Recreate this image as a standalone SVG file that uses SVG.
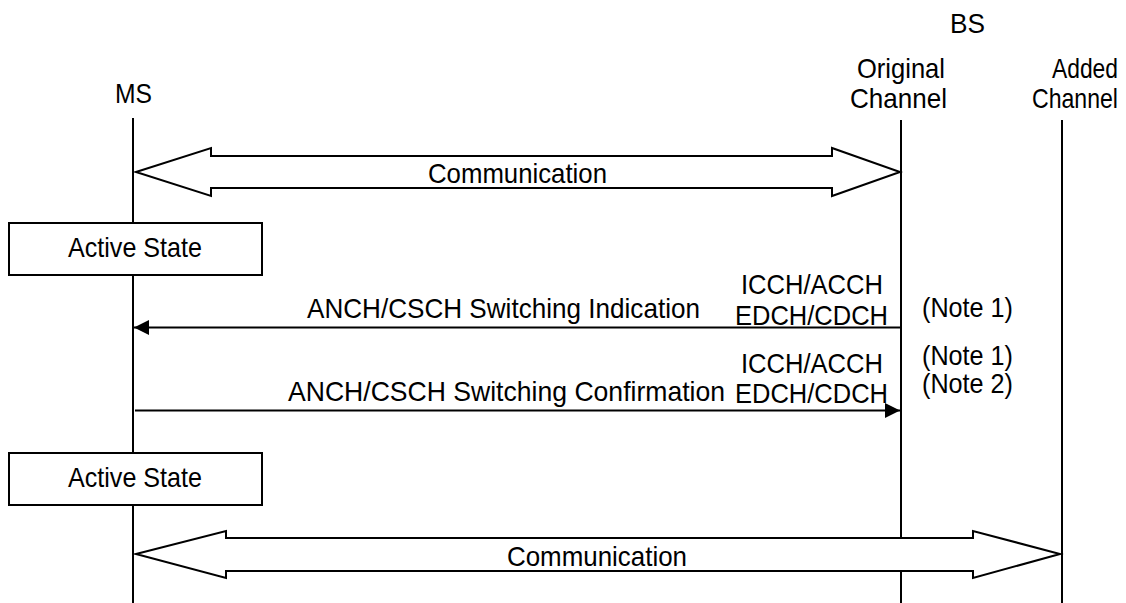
<svg xmlns="http://www.w3.org/2000/svg" width="1126" height="603" viewBox="0 0 1126 603">
<style>
text{font-family:"Liberation Sans",Arial,sans-serif;font-size:28px;fill:#000}
.life{stroke:#000;stroke-width:2;fill:none}
.big{fill:#fff;stroke:#000;stroke-width:2;stroke-linejoin:miter}
.box{fill:#fff;stroke:#000;stroke-width:2}
.msg{stroke:#000;stroke-width:2;fill:none}
</style>
<defs>
<marker id="ah" viewBox="0 0 15 15" refX="15" refY="7.5" markerWidth="15" markerHeight="15" markerUnits="userSpaceOnUse" orient="auto">
<path d="M0,0 L15,7.5 L0,15 Z" fill="#000"/>
</marker>
</defs>
<g id="MS">
<text x="115" y="103" textLength="37" lengthAdjust="spacingAndGlyphs">MS</text>
<line class="life" x1="133" y1="118" x2="133" y2="603"/>
</g>
<g id="BS">
<text x="950" y="33" textLength="35" lengthAdjust="spacingAndGlyphs">BS</text>
</g>
<g id="OriginalChannel">
<text x="857" y="78" textLength="88" lengthAdjust="spacingAndGlyphs">Original</text>
<text x="850" y="108" textLength="97" lengthAdjust="spacingAndGlyphs">Channel</text>
<line class="life" x1="901" y1="120" x2="901" y2="603"/>
</g>
<g id="AddedChannel">
<text x="1052" y="78" textLength="66" lengthAdjust="spacingAndGlyphs">Added</text>
<text x="1032" y="108" textLength="86" lengthAdjust="spacingAndGlyphs">Channel</text>
<line class="life" x1="1062" y1="120" x2="1062" y2="603"/>
</g>
<g id="ActiveState1">
<rect class="box" x="9" y="223" width="253" height="52"/>
<text x="68" y="257" textLength="134" lengthAdjust="spacingAndGlyphs">Active State</text>
</g>
<g id="ActiveState2">
<rect class="box" x="9" y="453" width="253" height="52"/>
<text x="68" y="487" textLength="134" lengthAdjust="spacingAndGlyphs">Active State</text>
</g>
<g id="connectors">
<g id="comm1">
<polygon class="big" points="136,172 211,148 211,156 832,156 832,148 900,172 832,196 832,188 211,188 211,196"/>
<text x="428" y="183" textLength="179" lengthAdjust="spacingAndGlyphs">Communication</text>
</g>
<g id="indication">
<line class="msg" x1="901" y1="327.5" x2="134" y2="327.5" marker-end="url(#ah)"/>
<text x="307" y="318" textLength="393" lengthAdjust="spacingAndGlyphs">ANCH/CSCH Switching Indication</text>
<text x="741" y="294" textLength="142" lengthAdjust="spacingAndGlyphs">ICCH/ACCH</text>
<text x="735" y="325" textLength="153" lengthAdjust="spacingAndGlyphs">EDCH/CDCH</text>
<text x="922" y="317" textLength="91" lengthAdjust="spacingAndGlyphs">(Note 1)</text>
</g>
<g id="confirmation">
<line class="msg" x1="135" y1="410.5" x2="900" y2="410.5" marker-end="url(#ah)"/>
<text x="288" y="401" textLength="437" lengthAdjust="spacingAndGlyphs">ANCH/CSCH Switching Confirmation</text>
<text x="741" y="373" textLength="142" lengthAdjust="spacingAndGlyphs">ICCH/ACCH</text>
<text x="735" y="403" textLength="153" lengthAdjust="spacingAndGlyphs">EDCH/CDCH</text>
<text x="922" y="365" textLength="91" lengthAdjust="spacingAndGlyphs">(Note 1)</text>
<text x="922" y="393" textLength="91" lengthAdjust="spacingAndGlyphs">(Note 2)</text>
</g>
<g id="comm2">
<polygon class="big" points="136,554 226,531 226,538 973,538 973,531 1060,554 973,578 973,571 226,571 226,578"/>
<text x="507" y="566" textLength="180" lengthAdjust="spacingAndGlyphs">Communication</text>
</g>
</g>
</svg>
